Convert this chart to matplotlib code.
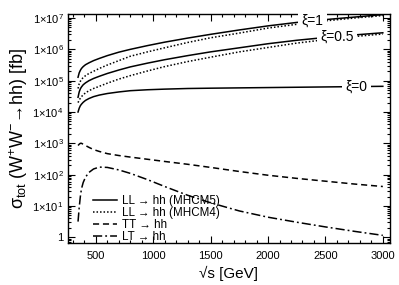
import numpy as np
import matplotlib
matplotlib.use('Agg')
import matplotlib.pyplot as plt
from matplotlib.ticker import FuncFormatter, FixedLocator, LogLocator, MultipleLocator

plt.rcParams['font.family'] = ['Liberation Sans', 'DejaVu Sans']
plt.rcParams['mathtext.fontset'] = 'custom'
plt.rcParams['mathtext.rm'] = 'Liberation Sans'
plt.rcParams['mathtext.it'] = 'Liberation Sans:italic'

# sqrt(s) in GeV
sqrt_s = [345, 355, 365, 375, 390, 410, 440, 480, 530, 600, 700, 800, 950,
          1100, 1300, 1500, 1750, 2000, 2250, 2500, 2750, 3000]

# log10(sigma / fb)
ll_mhcm5_xi1 = [5.11, 5.25, 5.33, 5.39, 5.45, 5.51, 5.57, 5.64, 5.71, 5.80, 5.91, 6.00, 6.12,
                6.23, 6.36, 6.48, 6.62, 6.75, 6.86, 6.95, 7.03, 7.11]
ll_mhcm4_xi1 = [4.75, 4.90, 4.98, 5.04, 5.10, 5.16, 5.23, 5.30, 5.39, 5.50, 5.64, 5.78, 5.92,
                6.05, 6.22, 6.37, 6.52, 6.68, 6.80, 6.91, 7.00, 7.08]
ll_mhcm5_xi05 = [4.47, 4.64, 4.74, 4.80, 4.87, 4.93, 5.00, 5.07, 5.14, 5.23, 5.34, 5.44, 5.56,
                 5.67, 5.80, 5.92, 6.05, 6.18, 6.29, 6.38, 6.46, 6.53]
ll_mhcm4_xi05 = [4.30, 4.38, 4.44, 4.49, 4.55, 4.61, 4.68, 4.75, 4.82, 4.92, 5.05, 5.16, 5.31,
                 5.45, 5.61, 5.75, 5.92, 6.06, 6.20, 6.31, 6.41, 6.49]
ll_xi0 = [4.00, 4.12, 4.20, 4.25, 4.31, 4.37, 4.43, 4.49, 4.54, 4.59, 4.64, 4.68, 4.71,
          4.73, 4.75, 4.76, 4.77, 4.78, 4.79, 4.80, 4.81, 4.82]
tt_hh = [2.93, 2.97, 3.00, 3.00, 2.97, 2.93, 2.87, 2.80, 2.74, 2.67, 2.61, 2.56, 2.49,
         2.42, 2.33, 2.23, 2.10, 1.98, 1.88, 1.79, 1.70, 1.62]
lt_hh = [0.50, 0.95, 1.30, 1.55, 1.75, 1.92, 2.07, 2.18, 2.24, 2.23, 2.15, 2.04, 1.84,
         1.62, 1.34, 1.10, 0.84, 0.64, 0.48, 0.33, 0.19, 0.06]

xi_labels = ['ξ=1', 'ξ=0.5', 'ξ=0']
xi_label_x = [2390, 2600, 2770]
y_decades = [0, 1, 2, 3, 4, 5, 6, 7]


def sig(v):
    return 10 ** np.array(v)


fig = plt.figure(figsize=(3.99, 2.85), dpi=100)
ax = fig.add_axes([0.170, 0.147, 0.807, 0.804])

lw = 1.1
dots = (0, (1, 1.3))
ax.plot(sqrt_s, sig(ll_mhcm5_xi1), 'k-', lw=lw, label='LL → hh (MHCM5)')
ax.plot(sqrt_s, sig(ll_mhcm4_xi1), 'k', ls=dots, lw=lw, label='LL → hh (MHCM4)')
ax.plot(sqrt_s, sig(ll_mhcm5_xi05), 'k-', lw=lw)
ax.plot(sqrt_s, sig(ll_mhcm4_xi05), 'k', ls=dots, lw=lw)
ax.plot(sqrt_s, sig(ll_xi0), 'k-', lw=lw)
ax.plot(sqrt_s, sig(tt_hh), 'k', ls=(0, (4, 2.5)), lw=lw, label='TT → hh')
ax.plot(sqrt_s, sig(lt_hh), 'k', ls=(0, (6, 2, 1.2, 2)), lw=lw, label='LT → hh')

for curve, lab, xl in zip([ll_mhcm5_xi1, ll_mhcm5_xi05, ll_xi0], xi_labels, xi_label_x):
    yl = 10 ** np.interp(xl, sqrt_s, curve)
    ax.text(xl, yl, lab, fontsize=10, ha='center', va='center',
            bbox=dict(facecolor='white', edgecolor='none', pad=2.5))

ax.set_yscale('log')
ax.set_xlim(256, 3061)
ax.set_ylim(0.65, 1.35e7)

ax.xaxis.set_major_locator(MultipleLocator(500))
ax.xaxis.set_minor_locator(MultipleLocator(100))
ax.yaxis.set_major_locator(FixedLocator([10.0 ** e for e in y_decades]))
ax.yaxis.set_minor_locator(LogLocator(base=10, subs=np.arange(2, 10), numticks=20))


def yfmt(v, pos):
    e = int(round(np.log10(v)))
    if e == 0:
        return '1'
    return r'1$\times$10$^{%d}$' % e


ax.yaxis.set_major_formatter(FuncFormatter(yfmt))
ax.tick_params(which='both', direction='in', top=True, right=True, labelsize=8, width=0.8)
ax.tick_params(which='major', length=5, pad=3)
ax.tick_params(which='minor', length=2.5)
ax.tick_params(axis='x', which='major', pad=6)
for s in ax.spines.values():
    s.set_linewidth(1.0)

ax.set_xlabel('√s [GeV]', fontsize=11, labelpad=3.5)
ax.set_ylabel(r'σ$_{\rm tot}$ (W$^{+}$W$^{-}$→hh) [fb]', fontsize=13, labelpad=2)

ax.legend(loc='lower left', bbox_to_anchor=(0.06, -0.024), frameon=False, fontsize=8.4,
          handlelength=2.1, handletextpad=0.4, labelspacing=0.0, borderpad=0)

fig.savefig('out.png', dpi=100)
